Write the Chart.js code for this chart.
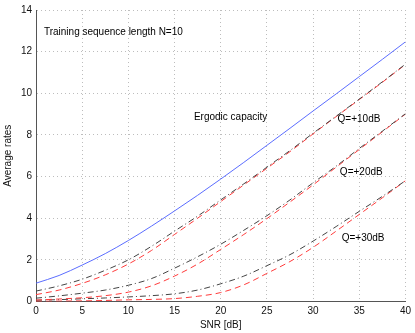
<!DOCTYPE html>
<html lang="en">
<head>
    <meta charset="UTF-8">
    <title>Average rates</title>
    <script src="https://cdn.jsdelivr.net/npm/chart.js"></script>
    <style>
        body { margin: 0; background: #fff; }
        .grafico { width: 415px; height: 333px; }
    </style>
</head>
<body>
    <div class="grafico">
        <canvas id="myChart" width="415" height="333"></canvas>
    </div>
</body>
</html>
<script>
    // SNR in dB
    const snr = [0, 2.5, 5, 7.5, 10, 12.5, 15, 17.5, 20, 22.5, 25, 27.5, 30, 32.5, 35, 37.5, 40]

    const ergodic = [0.88, 1.25, 1.75, 2.3, 2.93, 3.62, 4.35, 5.1, 5.88, 6.68, 7.5, 8.32, 9.15, 9.97, 10.8, 11.63, 12.47]

    const q10Black = [0.5, 0.75, 1.07, 1.5, 2.0, 2.65, 3.38, 4.1, 4.88, 5.65, 6.45, 7.25, 8.08, 8.9, 9.72, 10.55, 11.4]
    const q10Red   = [0.33, 0.55, 0.87, 1.28, 1.8, 2.45, 3.22, 4.0, 4.8, 5.6, 6.4, 7.2, 8.05, 8.88, 9.7, 10.53, 11.38]

    const q20Black = [0.16, 0.27, 0.4, 0.55, 0.78, 1.1, 1.6, 2.15, 2.75, 3.42, 4.12, 4.88, 5.7, 6.5, 7.35, 8.18, 9.02]
    const q20Red   = [0.07, 0.12, 0.18, 0.28, 0.45, 0.75, 1.22, 1.8, 2.5, 3.22, 3.98, 4.78, 5.6, 6.45, 7.3, 8.15, 9.0]

    const q30Black = [0.06, 0.09, 0.13, 0.17, 0.22, 0.28, 0.37, 0.55, 0.85, 1.22, 1.72, 2.25, 2.9, 3.6, 4.33, 5.05, 5.8]
    const q30Red   = [0.01, 0.02, 0.03, 0.05, 0.08, 0.1, 0.14, 0.25, 0.43, 0.8, 1.35, 1.92, 2.6, 3.38, 4.18, 4.98, 5.8]

    const xTicks = [0, 5, 10, 15, 20, 25, 30, 35, 40]
    const yTicks = [0, 2, 4, 6, 8, 10, 12, 14]

    // text labels placed in data coordinates
    const rotulos = [
        { text: 'Training sequence length N=10', x: 0.86, y: 12.95 },
        { text: 'Ergodic capacity', x: 17.1, y: 8.85 },
        { text: 'Q=+10dB', x: 32.65, y: 8.74 },
        { text: 'Q=+20dB', x: 32.9, y: 6.22 },
        { text: 'Q=+30dB', x: 33.1, y: 3.03 }
    ]

    function pontos(valores){
        return snr.map((s, i) => ({ x: s, y: valores[i] }))
    }

    function serie(valores, cor, tracejado){
        return {
            data: pontos(valores),
            borderColor: cor,
            borderWidth: 1,
            borderDash: tracejado,
            pointRadius: 0,
            fill: false,
            cubicInterpolationMode: 'monotone'
        }
    }

    const dashDot = [6, 3, 1, 3]
    const dashed = [6, 4]

    const textos = {
        id: 'textos',
        afterDatasetsDraw(chart){
            const ctx = chart.ctx
            const sx = chart.scales.x
            const sy = chart.scales.y
            ctx.save()
            ctx.font = '10px "Liberation Sans", Arial, sans-serif'
            ctx.fillStyle = '#000'
            ctx.textAlign = 'left'
            ctx.textBaseline = 'middle'
            for (const r of rotulos){
                ctx.fillText(r.text, sx.getPixelForValue(r.x), sy.getPixelForValue(r.y))
            }
            ctx.restore()
        }
    }

    Chart.defaults.font.family = '"Liberation Sans", Arial, sans-serif'
    Chart.defaults.font.size = 10
    Chart.defaults.color = '#111'

    const ctx = document.getElementById('myChart')

    const grafico = new Chart(ctx, {
        type: 'line',
        data: {
            datasets: [
                serie(ergodic, '#5b6dff', []),
                serie(q10Black, '#444', dashDot),
                serie(q10Red, '#ff3b3b', dashed),
                serie(q20Black, '#444', dashDot),
                serie(q20Red, '#ff3b3b', dashed),
                serie(q30Black, '#444', dashDot),
                serie(q30Red, '#ff3b3b', dashed)
            ]
        },
        options: {
            responsive: false,
            animation: false,
            layout: { padding: { top: 8, right: 8, left: 0, bottom: 0 } },
            plugins: {
                legend: { display: false },
                tooltip: { enabled: false }
            },
            scales: {
                x: {
                    type: 'linear',
                    min: 0,
                    max: 40,
                    afterBuildTicks: s => { s.ticks = xTicks.map(v => ({ value: v })) },
                    afterFit: s => { s.height = 31.5 },
                    grid: { color: '#bdbdbd', drawTicks: false },
                    border: { color: '#555', dash: [1, 3] },
                    ticks: { padding: 4, maxRotation: 0 },
                    title: { display: true, text: 'SNR [dB]', padding: { top: 0, bottom: 2 } }
                },
                y: {
                    type: 'linear',
                    min: 0,
                    max: 14,
                    afterBuildTicks: s => { s.ticks = yTicks.map(v => ({ value: v })) },
                    afterFit: s => { s.width = 36 },
                    grid: { color: '#bdbdbd', drawTicks: false },
                    border: { color: '#555', dash: [1, 3] },
                    ticks: { padding: 4 },
                    title: { display: true, text: 'Average rates', padding: { top: 2, bottom: 0 } }
                }
            }
        },
        plugins: [textos]
    })
</script>
